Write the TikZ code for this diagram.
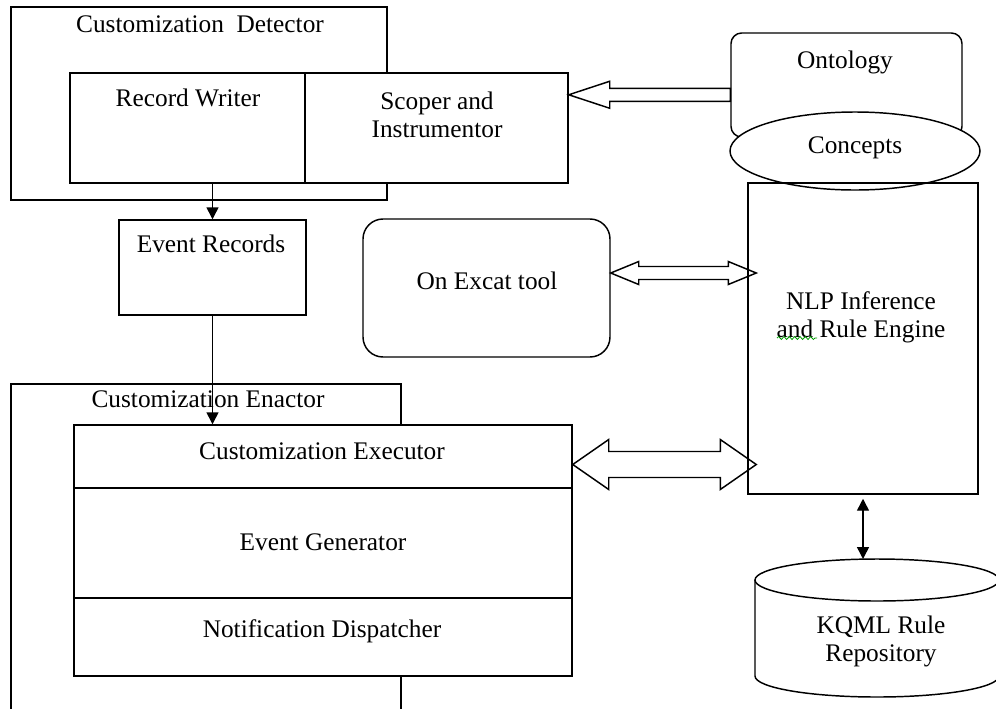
\documentclass[tikz,border=0pt]{standalone}
\usepackage{fontspec}
\setmainfont{Liberation Serif}
\usetikzlibrary{arrows.meta,calc,fit,shapes.geometric,decorations.pathmorphing}

\tikzset{every picture/.style={line width=1.1pt}}
\tikzset{
  box/.style={draw, inner sep=0pt},
  txt/.style={inner sep=0pt, font=\fontsize{19}{21}\selectfont},
  tri/.tip={Triangle[length=9pt,width=9pt]},
}

\begin{document}
\begin{tikzpicture}[x=0.75pt,y=0.75pt,yscale=-1,xscale=1]
\useasboundingbox (0,0) rectangle (996,708);
\clip (0,0) rectangle (996,708);

%Shape: Rectangle [customization detector]
\node [box, fit={(11,7) (387,200)}] (detector) {};
\node [box, fill=white, fit={(70,73) (305,183)}] (rwriter) {};
\node [box, fill=white, fit={(305,73) (568,183)}] (scoper) {};
%Shape: Rectangle [event records]
\node [box, fit={(119,220) (306,315)}] (erecords) {};
%Shape: Rectangle [customization enactor]
\node [box, fit={(11,384) (401,730)}] (enactor) {};
\node [box, fill=white, fit={(74,425) (572,488)}] (cexec) {};
\node [box, fill=white, fit={(74,488) (572,598)}] (egen) {};
\node [box, fill=white, fit={(74,598) (572,676)}] (ndisp) {};
%Shape: Rounded Rect [ontology]
\node [box, rounded corners=8pt, fit={(731,33) (962,137)}] (ontology) {};
%Shape: Ellipse [concepts]
\node [box, ellipse, fill=white, minimum width=187.5pt, minimum height=58.5pt] (concepts) at (855,151) {};
%Shape: Rectangle [nlp engine]
\node [box, fit={(748,183) (978,494)}] (nlp) {};
%Shape: Rounded Rect [on excat tool]
\node [box, rounded corners=15pt, fit={(363,219) (610,357)}] (onexcat) {};
%Shape: Can [kqml repository]
\coordinate (kqml) at (877,559);
\draw (877,580) ellipse [x radius=122, y radius=21];
\draw (755,580) -- (755,676) arc [start angle=180, end angle=0, x radius=122, y radius=21] -- (999,580);

% Text Node
\node [txt, anchor=base] (detectortxt) at (200,32) {Customization~~Detector};
% Text Node
\node [txt, anchor=base] (rwritertxt) at (188,106) {Record Writer};
% Text Node
\node [txt, anchor=north, align=center] (scopertxt) at (437,91) {Scoper and\\Instrumentor};
% Text Node
\node [txt, anchor=base] (erecordstxt) at (211,252) {Event Records};
% Text Node
\node [txt, anchor=base] (enactortxt) at (208,407) {Customization Enactor};
% Text Node
\node [txt, anchor=base] (cexectxt) at (322,459) {Customization Executor};
% Text Node
\node [txt, anchor=base] (egentxt) at (323,550) {Event Generator};
% Text Node
\node [txt, anchor=base] (ndisptxt) at (322,637) {Notification Dispatcher};
% Text Node
\node [txt, anchor=base] (ontologytxt) at (845,68) {Ontology};
% Text Node
\node [txt, anchor=base] (conceptstxt) at (855,153) {Concepts};
% Text Node
\node [txt, anchor=base] (onexcattxt) at (487,289) {On Excat tool};
% Text Node
\node [txt, anchor=north, align=center] (nlptxt) at (861,291) {NLP Inference\\and Rule Engine};
% Text Node
\node [txt, anchor=north, align=center] (kqmltxt) at (881,615) {KQML Rule\\Repository};

%Spelling mark
\draw [green!60!black, line width=0.6pt, decorate, decoration={snake, amplitude=1.1pt, segment length=4pt}] (777,338) -- (817,338);

%Straight Lines [writer to records]
\draw [-tri] (rwriter.south -| erecords.north) -- (erecords.north);
%Straight Lines [records to executor]
\draw [-tri] (erecords.south) -- (erecords.south |- cexec.north);
%Straight Lines [engine to repository]
\draw [tri-tri, shorten <=3pt] (nlp.south) -- (nlp.south |- kqml);

%Shape: Left Arrow [ontology to scoper]
\coordinate (ha) at ($(scoper.north east)+(0,22.5)$);
\draw (ha) -- ++(41,-13.5) -- ++(0,7) -- ($(ha -| ontology.west)+(0,-6.5)$) -- ++(0,13) -- ($(ha)+(41,6.5)$) -- ++(0,7) -- cycle;
%Shape: Left Right Arrow [tool to engine]
\coordinate (da) at ($(onexcat.east)+(0,-15)$);
\coordinate (db) at ($(da -| nlp.west)+(9,0)$);
\draw (da) -- ++(28,-11.5) -- ++(0,5) -- ($(db)+(-28,-6.5)$) -- ++(0,-5) -- (db) -- ++(-28,11.5) -- ++(0,-5) -- ($(da)+(28,6.5)$) -- ++(0,5) -- cycle;
%Shape: Left Right Arrow [executor to engine]
\coordinate (ea) at ($(cexec.east)+(0,8)$);
\coordinate (eb) at ($(ea -| nlp.west)+(9,0)$);
\draw (ea) -- ++(36,-25) -- ++(0,12) -- ($(eb)+(-36,-13)$) -- ++(0,-12) -- (eb) -- ++(-36,25) -- ++(0,-12) -- ($(ea)+(36,13)$) -- ++(0,12) -- cycle;

\end{tikzpicture}
\end{document}
